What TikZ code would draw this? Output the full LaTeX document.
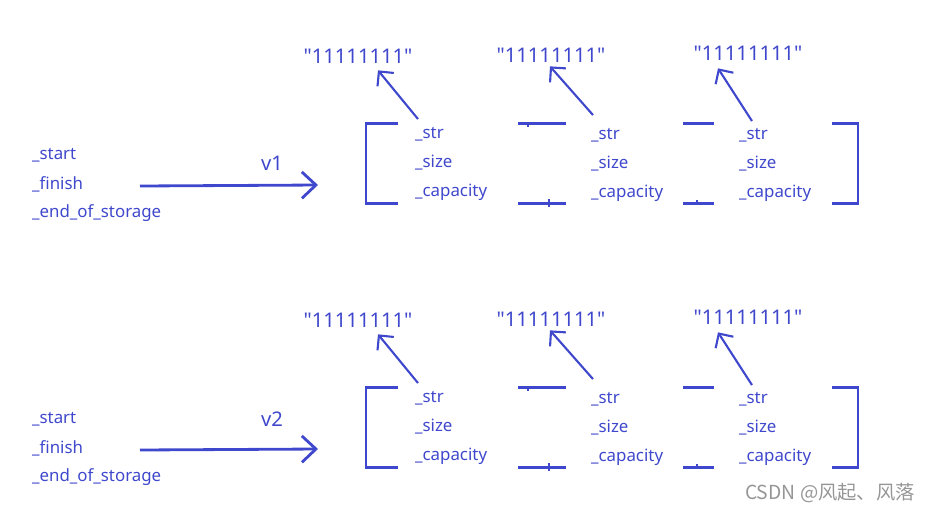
\documentclass[tikz,border=0pt]{standalone}
\usepackage{fontspec}
\setmainfont{Noto Sans}
\newfontfamily\plainsans{Noto Sans}
\newfontfamily\cjk{Noto Sans CJK SC}
\usepackage{tikz}
\usetikzlibrary{arrows.meta}
\definecolor{inkblue}{RGB}{63,72,204}
\definecolor{markgray}{RGB}{150,150,150}
\newcommand{\strone}{"11111111"}

\begin{document}
\begin{tikzpicture}[x=0.02cm,y=-0.02cm,
  field/.style={anchor=west,inner sep=1pt,text=inkblue,font=\fontsize{9.6}{11}\selectfont},
  strval/.style={inner sep=1pt,text=inkblue,font=\plainsans\fontsize{11.5}{13}\selectfont},
  bracket/.style={inkblue,line width=1.7pt},
  ptr/.style={inkblue,line width=1.2pt,->,>={Straight Barb[length=6pt,width=12pt]}},
  vptr/.style={inkblue,line width=1.6pt,->,>={Straight Barb[length=8pt,width=15pt]}}]
\useasboundingbox (0,0) rectangle (931,512);
% v1
\node[field] (start1) at (30,155) {\_start};
\node[field] (finish1) at (30,184) {\_finish};
\node[field] (eos1) at (30,213) {\_end\_of\_storage};
\coordinate (v1from) at (140,186);
\coordinate (v1to) at (318,185);
\draw[vptr] (v1from) -- (v1to);
\node[strval] (v1) at (272,163) {v1};
\draw[bracket] (398,123) -- (366,123) -- (366,203) -- (398,203);
\draw[bracket] (518,123) -- (566,123);
\draw[bracket] (518,203) -- (566,203);
\draw[bracket] (683,123) -- (714,123);
\draw[bracket] (683,203) -- (714,203);
\draw[bracket] (832,123) -- (858,123) -- (858,203) -- (832,203);
\draw[inkblue,line width=1pt] (528,123) -- (528,127);
\draw[inkblue,line width=1pt] (549,199) -- (549,207);
\draw[inkblue,line width=1pt] (697,200) -- (697,203);
\node[field] (str11) at (413,134) {\_str};
\node[field] (size11) at (413,163) {\_size};
\node[field] (cap11) at (413,192) {\_capacity};
\node[field] (str12) at (589,135) {\_str};
\node[field] (size12) at (589,164) {\_size};
\node[field] (cap12) at (589,193) {\_capacity};
\node[field] (str13) at (737,135) {\_str};
\node[field] (size13) at (737,164) {\_size};
\node[field] (cap13) at (737,193) {\_capacity};
\node[strval] (q11) at (358,56) {\strone};
\node[strval] (q12) at (551,55) {\strone};
\node[strval] (q13) at (748,53) {\strone};
\draw[ptr] ([shift={(5,-6)}]str11.north west) -- ([shift={(20,5)}]q11.south);
\draw[ptr] ([shift={(4,-11)}]str12.north west) -- ([shift={(-1,2)}]q12.south);
\draw[ptr] ([shift={(15,-5)}]str13.north west) -- ([shift={(-30,6)}]q13.south);
% v2
\node[field] (start2) at (30,419) {\_start};
\node[field] (finish2) at (30,448) {\_finish};
\node[field] (eos2) at (30,477) {\_end\_of\_storage};
\coordinate (v2from) at (140,450);
\coordinate (v2to) at (318,449);
\draw[vptr] (v2from) -- (v2to);
\node[strval] (v2) at (272,419) {v2};
\draw[bracket] (398,387) -- (366,387) -- (366,467) -- (398,467);
\draw[bracket] (518,387) -- (566,387);
\draw[bracket] (518,467) -- (566,467);
\draw[bracket] (683,387) -- (714,387);
\draw[bracket] (683,467) -- (714,467);
\draw[bracket] (832,387) -- (858,387) -- (858,467) -- (832,467);
\draw[inkblue,line width=1pt] (528,387) -- (528,391);
\draw[inkblue,line width=1pt] (549,463) -- (549,471);
\draw[inkblue,line width=1pt] (697,464) -- (697,467);
\node[field] (str21) at (413,398) {\_str};
\node[field] (size21) at (413,427) {\_size};
\node[field] (cap21) at (413,456) {\_capacity};
\node[field] (str22) at (589,399) {\_str};
\node[field] (size22) at (589,428) {\_size};
\node[field] (cap22) at (589,457) {\_capacity};
\node[field] (str23) at (737,399) {\_str};
\node[field] (size23) at (737,428) {\_size};
\node[field] (cap23) at (737,457) {\_capacity};
\node[strval] (q21) at (358,320) {\strone};
\node[strval] (q22) at (551,319) {\strone};
\node[strval] (q23) at (748,317) {\strone};
\draw[ptr] ([shift={(5,-6)}]str21.north west) -- ([shift={(20,5)}]q21.south);
\draw[ptr] ([shift={(4,-11)}]str22.north west) -- ([shift={(-1,2)}]q22.south);
\draw[ptr] ([shift={(15,-5)}]str23.north west) -- ([shift={(-30,6)}]q23.south);
% watermark
\node[text=markgray,font=\cjk\fontsize{11}{13}\selectfont] (mark) at (830,493) {CSDN @风起、风落};
\end{tikzpicture}
\end{document}
